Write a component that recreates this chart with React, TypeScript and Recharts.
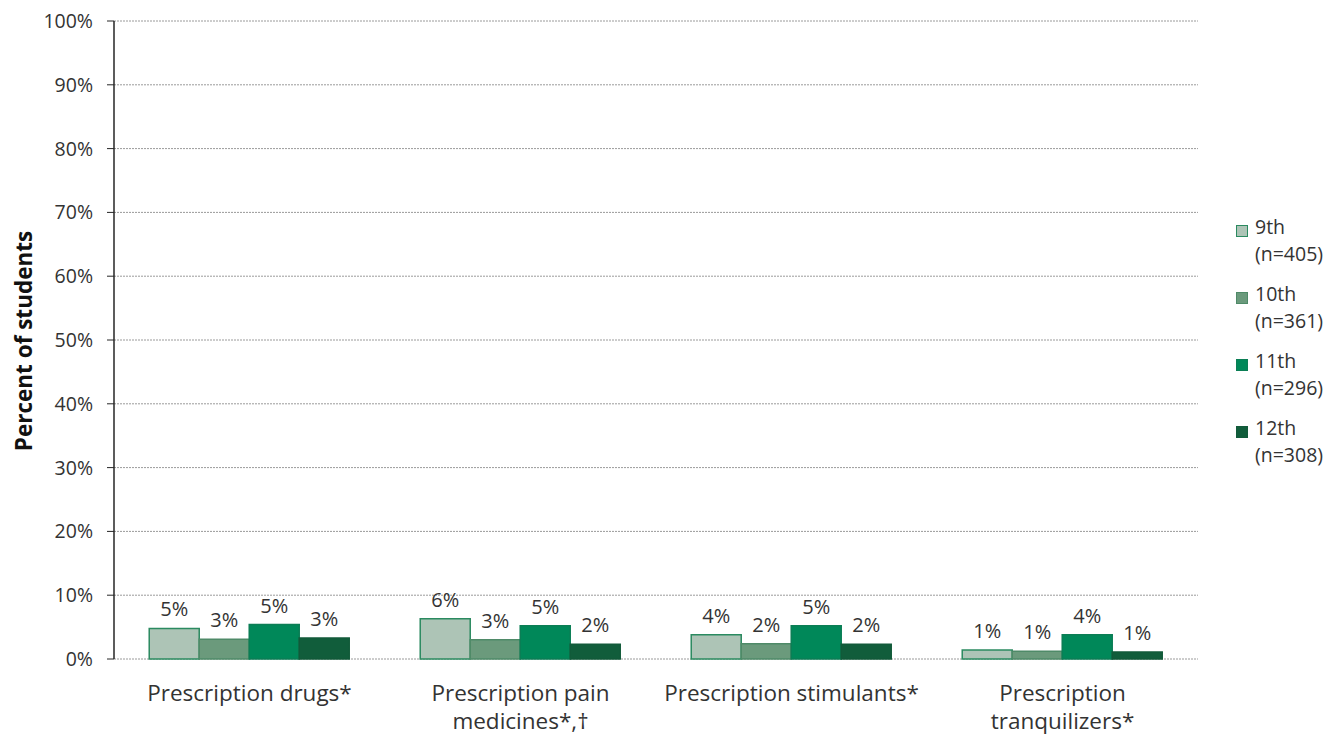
import React from 'react';
import { BarChart, Bar, XAxis, YAxis, CartesianGrid, LabelList, Legend, Label } from 'recharts';

const categories = ['Prescription drugs*', 'Prescription pain\nmedicines*,†', 'Prescription stimulants*', 'Prescription\ntranquilizers*'];
const grade9 = [4.8, 6.3, 3.8, 1.4];
const grade10 = [3.1, 3.0, 2.4, 1.2];
const grade11 = [5.4, 5.2, 5.2, 3.8];
const grade12 = [3.3, 2.3, 2.3, 1.1];
const seriesNames = ['9th', '10th', '11th', '12th'];
const seriesN = ['(n=405)', '(n=361)', '(n=296)', '(n=308)'];
const fills = ['#adc4b6', '#6b9a7c', '#008859', '#115d3b'];
const strokes = ['#2b8a60', '#4f8a68', '#0b7e55', '#125a3a'];
const yTicks = [0, 10, 20, 30, 40, 50, 60, 70, 80, 90, 100];

const data = categories.map((c, i) => ({
  cat: c,
  idx: i + 0.5,
  g9: grade9[i],
  g10: grade10[i],
  g11: grade11[i],
  g12: grade12[i],
}));

const FONT = '"Open Sans", sans-serif';
const TXT = '#333333';

const CatTick = (props: any) => {
  const { x, y, payload } = props;
  const lines = String(payload.value).split('\n');
  return (
    <text x={x} y={y} textAnchor="middle" fill={TXT} fontSize={22.5} fontFamily={FONT}>
      {lines.map((l, i) => (
        <tspan key={i} x={x} dy={i === 0 ? 42 : 28}>{l}</tspan>
      ))}
    </text>
  );
};

const LegendContent = () => (
  <div style={{ fontFamily: FONT, fontSize: 19.5, color: TXT }}>
    {seriesNames.map((n, i) => (
      <div key={n} style={{ height: 67, position: 'relative' }}>
        <div style={{ position: 'absolute', left: 0, top: 3, width: 10, height: 10, background: fills[i], border: `1px solid ${strokes[i]}` }} />
        <div style={{ position: 'absolute', left: 19, top: -5, lineHeight: '20px' }}>{n}</div>
        <div style={{ position: 'absolute', left: 19, top: 22, lineHeight: '20px' }}>{seriesN[i]}</div>
      </div>
    ))}
  </div>
);

const YLabel = () => (
  <text x={23} y={341} transform="rotate(-90 23 341)" textAnchor="middle" dominantBaseline="central" fontFamily={FONT} fontSize={22.5} fontWeight="bold" fill="#111">
    Percent of students
  </text>
);

const keys = ['g9', 'g10', 'g11', 'g12'];

export default function App() {
  return (
    <div style={{ position: 'absolute', left: 0, top: 0, background: '#fff' }}>
      <BarChart width={1330} height={739} data={data} margin={{ top: 21, right: 32, bottom: 0, left: 0 }} barCategoryGap="13%" barGap={0}>
        <CartesianGrid vertical={false} stroke="#9a9a9a" strokeDasharray="2 1" />
        <XAxis xAxisId="b" dataKey="idx" type="number" domain={[0, 4]} ticks={[0, 1, 2, 3, 4]} height={0} tickSize={7} tickFormatter={() => ''} stroke="#262626" axisLine={{ stroke: '#262626', strokeWidth: 1.5 }} tickLine={{ stroke: '#262626' }} />
        <XAxis xAxisId="a" dataKey="cat" height={80} axisLine={false} tickLine={false} tickSize={0} tickMargin={0} tick={<CatTick />} interval={0} />
        <YAxis width={114} domain={[0, 100]} ticks={yTicks} tickFormatter={(v) => `${v}%`} tickSize={7} tickMargin={14} axisLine={{ stroke: '#262626', strokeWidth: 1.5 }} tickLine={{ stroke: '#262626' }} tick={{ fill: TXT, fontSize: 19.5, fontFamily: FONT }} interval={0}>
          <Label content={<YLabel />} />
        </YAxis>
        <Legend verticalAlign="middle" align="right" layout="vertical" content={<LegendContent />} wrapperStyle={{ left: 1236, top: 222, width: 100, height: 270 }} />
        {keys.map((k, i) => (
          <Bar key={k} xAxisId="a" dataKey={k} name={seriesNames[i]} fill={fills[i]} stroke={strokes[i]} strokeWidth={1.5} isAnimationActive={false}>
            <LabelList dataKey={k} position="top" offset={12} formatter={(v: any) => `${Math.round(v)}%`} style={{ fill: TXT, fontSize: 20, fontFamily: FONT }} />
          </Bar>
        ))}
      </BarChart>
    </div>
  );
}
